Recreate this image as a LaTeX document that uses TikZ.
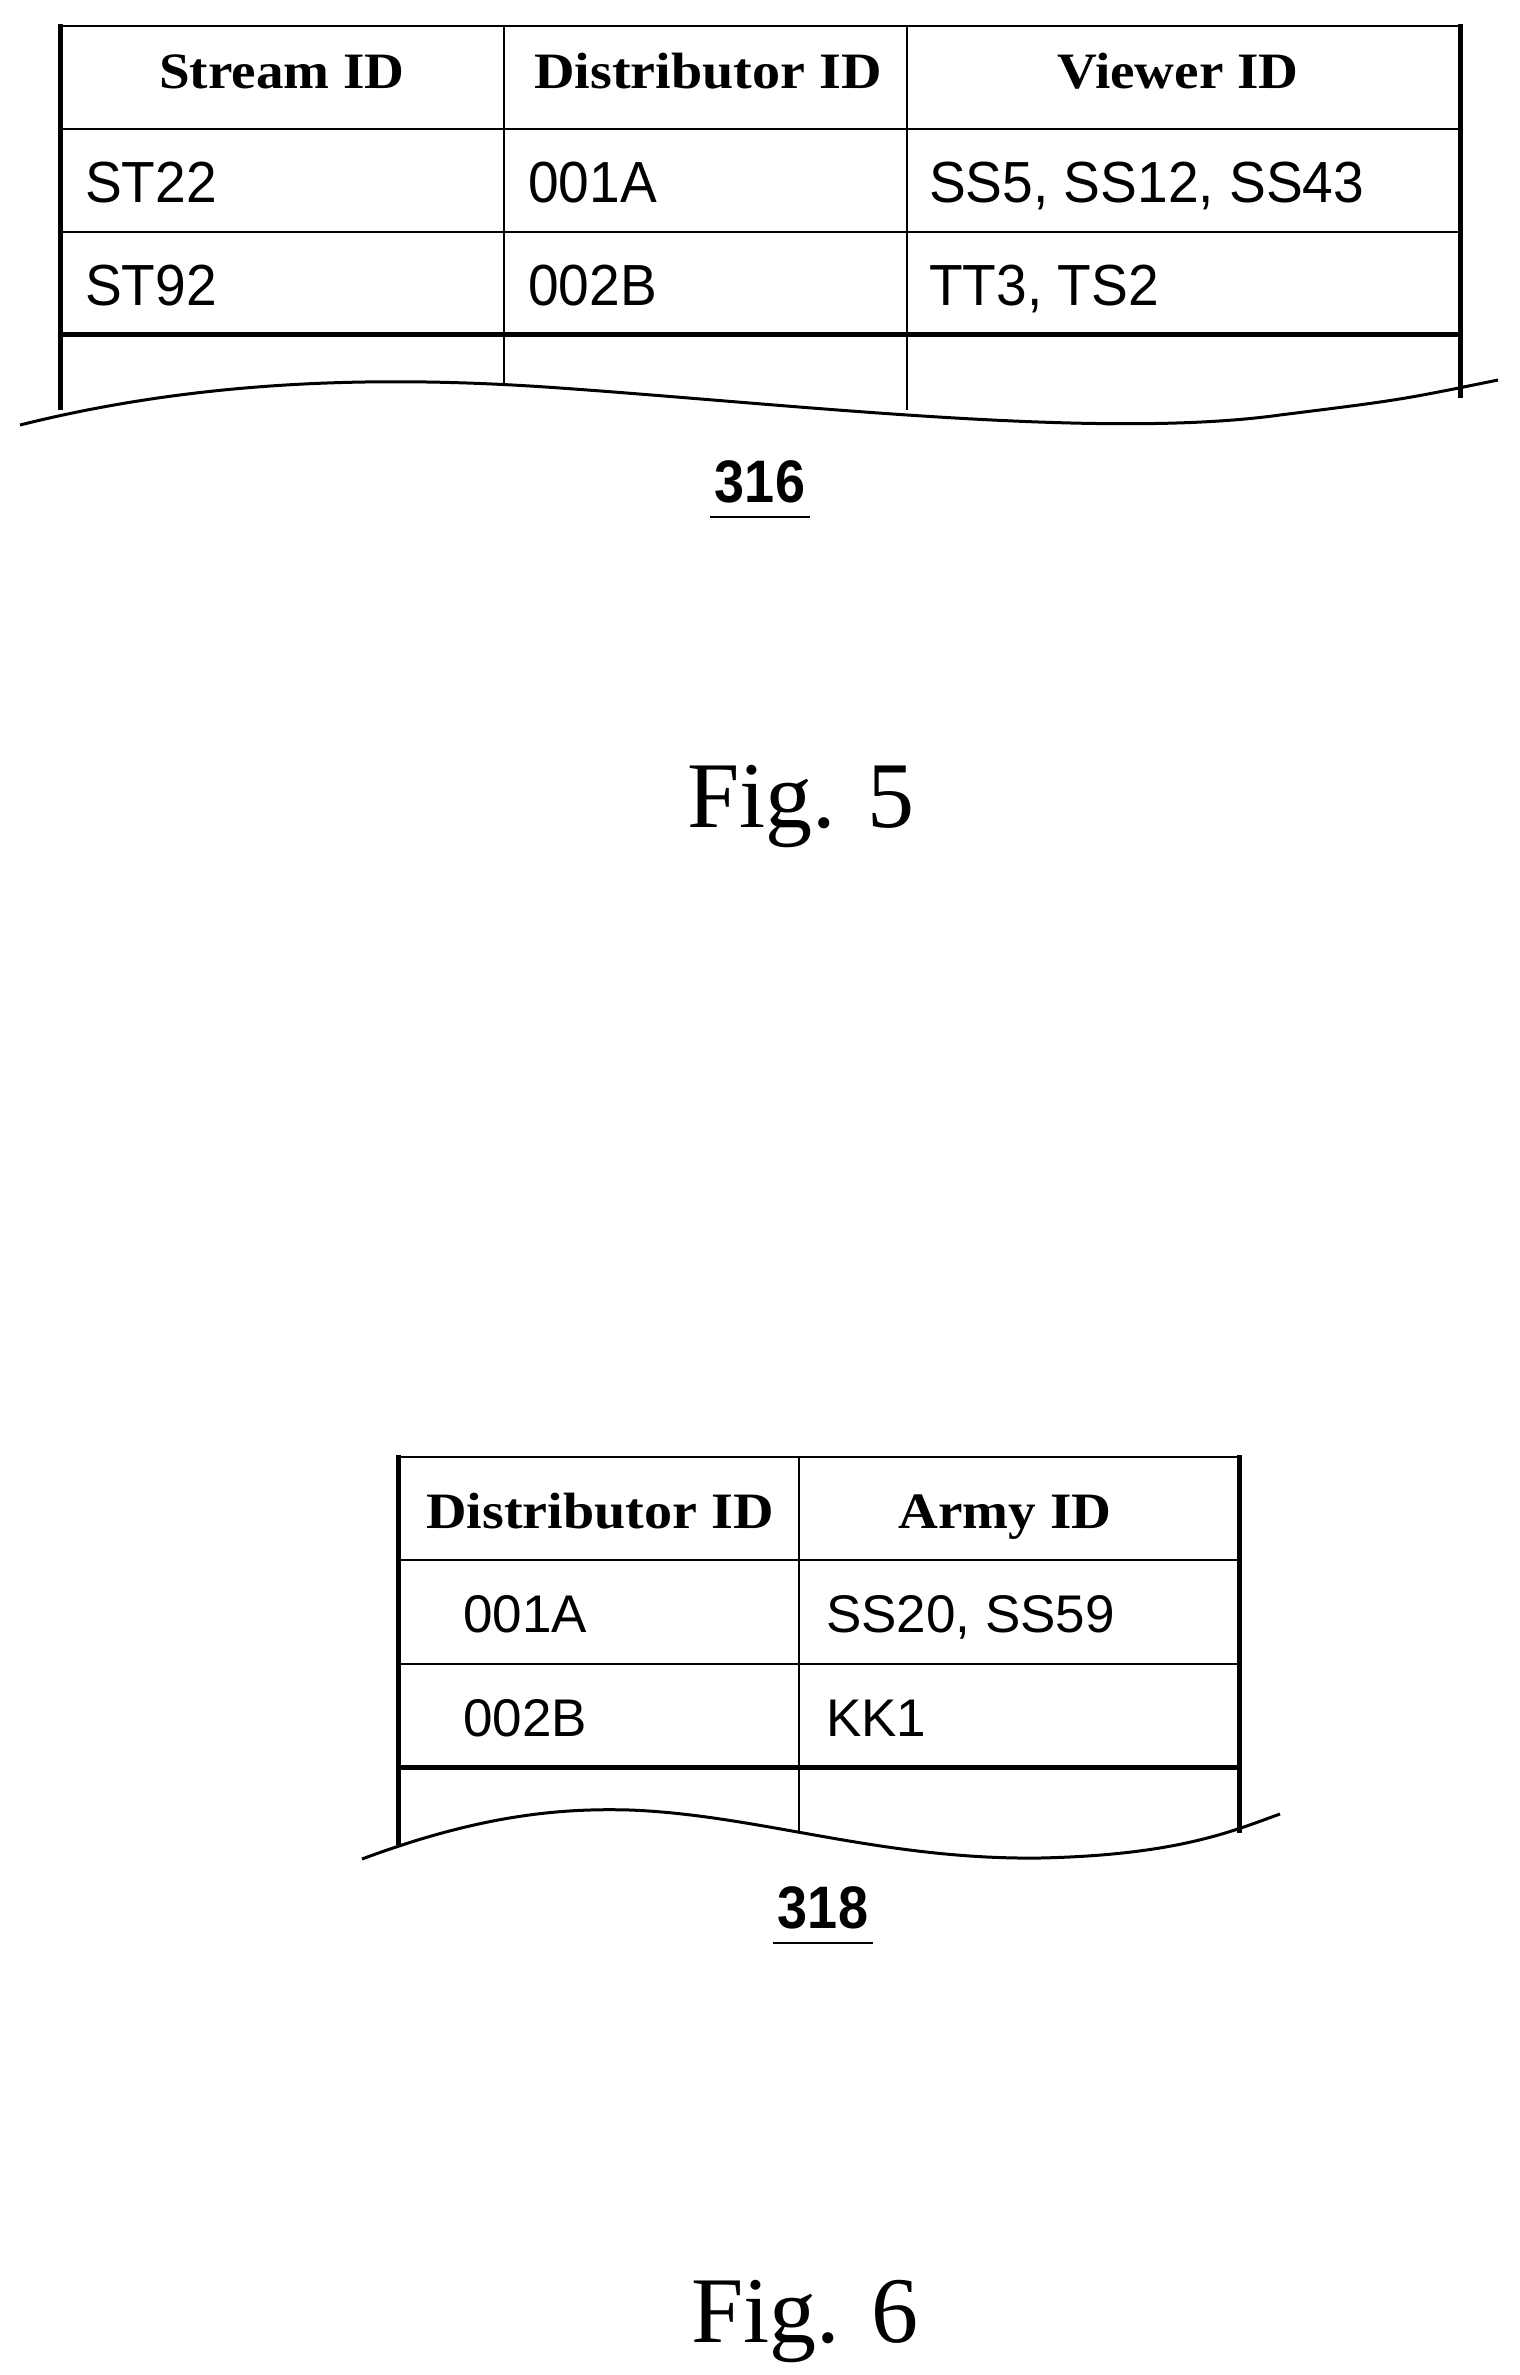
\documentclass[tikz,border=0pt]{standalone}
\usepackage{fontspec}
\setmainfont{Liberation Serif}
\setsansfont{Liberation Sans}
\begin{document}
\begin{tikzpicture}[x=1pt,y=-1pt,
  thin line/.style={line width=2.5pt},
  thick line/.style={line width=5pt},
  hdr/.style={inner sep=0pt, anchor=base, font=\fontsize{51}{54}\selectfont\bfseries},
  dat/.style={inner sep=0pt, anchor=base west, font=\sffamily\fontsize{58}{60}\selectfont},
  dat2/.style={inner sep=0pt, anchor=base west, font=\sffamily\fontsize{53}{55}\selectfont},
  ref/.style={inner sep=0pt, anchor=base, font=\sffamily\bfseries\fontsize{60}{62}\selectfont},
  fig/.style={inner sep=0pt, anchor=base, font=\fontsize{94}{96}\selectfont}]
\useasboundingbox (0,0) rectangle (1519,2375);
% ---------- Table 316 ----------
\draw[thin line] (60,26) -- (1461,26);
\draw[thin line] (60,129) -- (1461,129);
\draw[thin line] (60,232) -- (1461,232);
\draw[thick line] (60,334) -- (1461,334);
\draw[thin line] (504,26) -- (504,384);
\draw[thin line] (907,26) -- (907,410);
\draw[thick line] (60,24) -- (60,410);
\draw[thick line] (1460,24) -- (1460,398);
\draw[line width=3pt] (20,425) .. controls (200,380) and (380,375) .. (560,388)
   .. controls (800,405) and (1100,440) .. (1280,415) .. controls (1400,400) .. (1498,380);
\node[hdr] (h1) at (282,88) {\scalebox{1.08}[1]{Stream ID}};
\node[hdr] (h2) at (708,88) {\scalebox{1.1}[1]{Distributor ID}};
\node[hdr] (h3) at (1178,88) {\scalebox{1.08}[1]{Viewer ID}};
\node[dat] (a1) at (85,202) {\scalebox{0.95}[1]{ST22}};
\node[dat] (a2) at (528,202) {\scalebox{0.95}[1]{001A}};
\node[dat] (a3) at (929,202) {\scalebox{0.95}[1]{SS5, SS12, SS43}};
\node[dat] (b1) at (85,305) {\scalebox{0.95}[1]{ST92}};
\node[dat] (b2) at (528,305) {\scalebox{0.95}[1]{002B}};
\node[dat] (b3) at (929,305) {\scalebox{0.95}[1]{TT3, TS2}};
\node[ref] (r316) at (760,502) {\scalebox{0.9}[1]{316}};
\draw[line width=2pt] (710,517) -- (810,517);
\node[fig] (f5) at (801,827) {Fig. 5};
% ---------- Table 318 ----------
\draw[thin line] (398,1457) -- (1240,1457);
\draw[thin line] (398,1560) -- (1240,1560);
\draw[thin line] (398,1664) -- (1240,1664);
\draw[thick line] (398,1767) -- (1240,1767);
\draw[thin line] (799,1457) -- (799,1832);
\draw[thick line] (398,1455) -- (398,1845);
\draw[thick line] (1239,1455) -- (1239,1833);
\draw[line width=3pt] (362,1859) .. controls (480,1815) and (560,1808) .. (630,1810)
   .. controls (760,1815) and (880,1860) .. (1040,1858) .. controls (1180,1855) and (1235,1830) .. (1280,1814);
\node[hdr] (g1) at (600,1528) {\scalebox{1.1}[1]{Distributor ID}};
\node[hdr] (g2) at (1005,1528) {\scalebox{1.08}[1]{Army ID}};
\node[dat2] (c1) at (463,1632) {001A};
\node[dat2] (c2) at (826,1632) {SS20, SS59};
\node[dat2] (d1) at (463,1736) {002B};
\node[dat2] (d2) at (826,1736) {KK1};
\node[ref] (r318) at (823,1928) {\scalebox{0.9}[1]{318}};
\draw[line width=2pt] (773,1943) -- (873,1943);
\node[fig] (f6) at (805,2342) {Fig. 6};
\end{tikzpicture}
\end{document}
